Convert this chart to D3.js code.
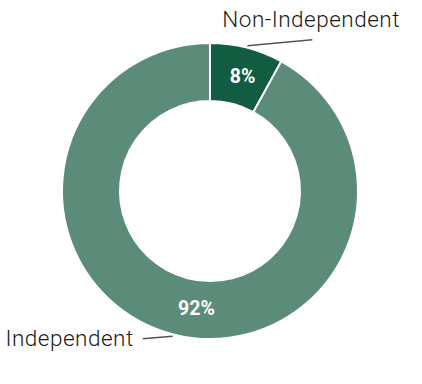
<!DOCTYPE html>
<meta charset="utf-8">
<script src="https://d3js.org/d3.v7.min.js"></script>
<style>
  body { margin: 0; background: #fff; }
  text { font-family: Roboto, "Noto Sans", sans-serif; }
</style>
<body>
<svg width="422" height="384"></svg>
<script>
    // data
    var categories = ["Non-Independent", "Independent"];
    var values     = [8, 92];
    var colors     = ["#125c42", "#5b8b79"];

    var cx = 210, cy = 191, outerR = 148, innerR = 90;

    var svg = d3.select("svg");
    var g   = svg.append("g").attr("transform", "translate(" + cx + "," + cy + ")");

    var pie = d3.pie().sort(null).value(function(d){ return d.value; });
    var arc = d3.arc().innerRadius(innerR).outerRadius(outerR);
    var labelArc = d3.arc().innerRadius((innerR + outerR) / 2).outerRadius((innerR + outerR) / 2);

    var data = categories.map(function(c, i){ return { name: c, value: values[i], color: colors[i] }; });
    var arcs = pie(data);

    g.selectAll("path.slice").data(arcs).enter().append("path")
        .attr("class", "slice")
        .attr("d", arc)
        .attr("fill", function(d){ return d.data.color; })
        .attr("stroke", "#fff")
        .attr("stroke-width", 2);

    // percentage labels inside the ring
    var pctNudge = [[3, 0], [16, 2]];
    g.selectAll("text.pct").data(arcs).enter().append("text")
        .attr("class", "pct")
        .attr("transform", function(d, i){
            var c = labelArc.centroid(d);
            return "translate(" + (c[0] + pctNudge[i][0]) + "," + (c[1] + pctNudge[i][1]) + ")";
        })
        .attr("text-anchor", "middle")
        .attr("dy", "0.36em")
        .attr("fill", "#fff")
        .attr("font-weight", "bold")
        .attr("font-size", "19.5px")
        .text(function(d){ return d.data.value + "%"; });

    // leader lines + category labels
    function midAngle(d){ return (d.startAngle + d.endAngle) / 2; }
    function polar(r, a){ return [r * Math.sin(a), -r * Math.cos(a)]; }

    var first = arcs[0], second = arcs[1];

    var p0 = polar(outerR + 2, midAngle(first));
    g.append("line")
        .attr("x1", p0[0]).attr("y1", p0[1])
        .attr("x2", p0[0] + 65).attr("y2", p0[1] - 6)
        .attr("stroke", "#555").attr("stroke-width", 1.5);
    g.append("text")
        .attr("x", p0[0] - 25).attr("y", p0[1] - 19)
        .attr("font-size", "22.5px").attr("font-weight", 300)
        .attr("letter-spacing", "0.5px")
        .attr("fill", "#1a1a1a")
        .text(first.data.name);

    var p1 = polar(outerR + 2, midAngle(second));
    g.append("line")
        .attr("x1", p1[0]).attr("y1", p1[1])
        .attr("x2", p1[0] - 30).attr("y2", p1[1] + 2.5)
        .attr("stroke", "#555").attr("stroke-width", 1.5);
    g.append("text")
        .attr("x", p1[0] - 39).attr("y", p1[1] + 9.5)
        .attr("text-anchor", "end")
        .attr("font-size", "22.5px").attr("font-weight", 300)
        .attr("letter-spacing", "0.5px")
        .attr("fill", "#1a1a1a")
        .text(second.data.name);
</script>
</body>
